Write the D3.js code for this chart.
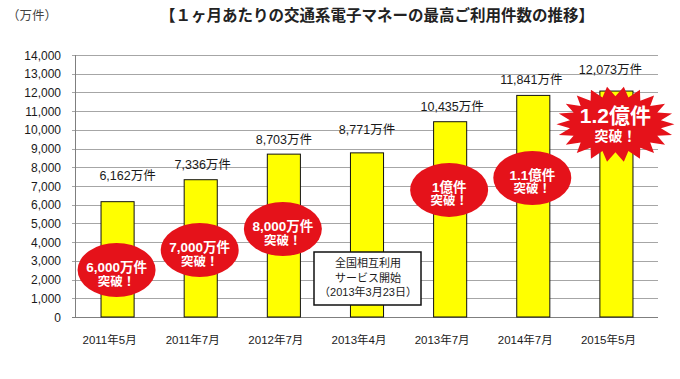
<!DOCTYPE html>
<html lang="ja">
<head>
<meta charset="utf-8">
<script src="https://cdn.jsdelivr.net/npm/d3@7"></script>
<style>
  html, body { margin: 0; padding: 0; background: #fff; }
  svg { display: block; font-family: "Liberation Sans", "Noto Sans CJK JP", sans-serif; }
</style>
</head>
<body>
<div id="chart"></div>
<script>
/* monthly peak usage of transit e-money, 10k transactions */
const CATEGORIES = ['2011年5月', '2011年7月', '2012年7月', '2013年4月', '2013年7月', '2014年7月', '2015年5月'];
const VALUES = [6162, 7336, 8703, 8771, 10435, 11841, 12073];
const Y_TICKS = [0, 1000, 2000, 3000, 4000, 5000, 6000, 7000, 8000, 9000, 10000, 11000, 12000, 13000, 14000];
const MILESTONE_MAIN = ['6,000万件', '7,000万件', '8,000万件', null, '1億件', '1.1億件', '1.2億件'];
const NOTE_LINES = ['全国相互利用', 'サービス開始', '（2013年3月23日）'];
const TITLE = '【１ヶ月あたりの交通系電子マネーの最高ご利用件数の推移】';
const UNIT = '（万件）';

const W = 680, H = 379;
const RED = '#e5121a';
const YELLOW = '#ffff00';
const GRID = '#a6a6a6';
const INK = '#1a1a1a';

const svg = d3.select('#chart').append('svg')
  .attr('width', W).attr('height', H).attr('viewBox', `0 0 ${W} ${H}`);

const x = d3.scaleBand().domain(CATEGORIES).range([76, 658])
  .paddingInner(0.59).paddingOuter(0.295);
const y = d3.scaleLinear().domain([0, 14000]).range([317, 55]);

/* title + unit */
svg.append('text').attr('x', 7).attr('y', 20)
  .attr('font-size', 12.5).attr('fill', '#444').text(UNIT);
svg.append('text').attr('x', 377).attr('y', 21)
  .attr('text-anchor', 'middle').attr('font-size', 15.5).attr('font-weight', 700)
  .attr('fill', '#222').text(TITLE);

/* grid */
svg.append('g').selectAll('line').data(Y_TICKS).join('line')
  .attr('x1', 72).attr('x2', 658)
  .attr('y1', (d) => Math.round(y(d)) + 0.5).attr('y2', (d) => Math.round(y(d)) + 0.5)
  .attr('stroke', (d) => (d === 0 ? '#7f7f7f' : GRID)).attr('stroke-width', 1);

svg.append('line').attr('x1', 75.5).attr('x2', 75.5)
  .attr('y1', y(14000)).attr('y2', y(0))
  .attr('stroke', '#7f7f7f');

svg.append('g').selectAll('text').data(Y_TICKS).join('text')
  .attr('x', 61).attr('y', (d) => y(d) + 4.5)
  .attr('text-anchor', 'end').attr('font-size', 12).attr('fill', INK)
  .text((d) => d3.format(',')(d));

/* bars */
svg.append('g').selectAll('rect').data(VALUES).join('rect')
  .attr('x', (d, i) => x(CATEGORIES[i]) + 0.5)
  .attr('y', (d) => y(d))
  .attr('width', x.bandwidth() - 1)
  .attr('height', (d) => y(0) - y(d))
  .attr('fill', YELLOW).attr('stroke', '#111').attr('stroke-width', 1);

/* value labels (lift tuned to the reference, label by label) */
const lift = [27, 16, 15, 24, 16, 16, 22];
const nudge = [10, 2, 0, 0, 2, -2, -6];
svg.append('g').selectAll('text').data(VALUES).join('text')
  .attr('x', (d, i) => x(CATEGORIES[i]) + x.bandwidth() / 2 + nudge[i])
  .attr('y', (d, i) => y(d) - lift[i] + 5)
  .attr('text-anchor', 'middle').attr('font-size', 12.5).attr('fill', INK)
  .text((d) => d3.format(',')(d) + '万件');

/* category labels */
svg.append('g').selectAll('text').data(CATEGORIES).join('text')
  .attr('x', (d) => x(d) + x.bandwidth() / 2 - 8)
  .attr('y', 344)
  .attr('text-anchor', 'middle').attr('font-size', 11.5).attr('fill', INK)
  .text((d) => d);

/* milestone badges: ellipses, a starburst for the last one */
const badgeAt = [2510, 3580, 4700, null, 6790, 7430, 10300];
const badges = svg.append('g');
MILESTONE_MAIN.forEach((txt, i) => {
  if (!txt) return;
  const cx = x(CATEGORIES[i]) + x.bandwidth() / 2 - 1;
  const cy = y(badgeAt[i]);
  const g = badges.append('g').attr('transform', `translate(${cx},${cy})`);
  const last = i === MILESTONE_MAIN.length - 1;
  if (last) {
    const n = 22, pts = [];
    for (let k = 0; k < n * 2; k++) {
      const a = (k / (n * 2)) * Math.PI * 2;
      const outer = k % 2 === 0;
      const rx = outer ? 59 : 46, ry = outer ? 38 : 28;
      pts.push([Math.cos(a) * rx, Math.sin(a) * ry]);
    }
    g.append('polygon').attr('points', pts.map((p) => p.join(',')).join(' '))
      .attr('fill', RED);
    g.append('text').attr('y', -1).attr('text-anchor', 'middle')
      .attr('font-size', 21).attr('font-weight', 700).attr('fill', '#fff').text(txt);
    g.append('text').attr('y', 17).attr('text-anchor', 'middle')
      .attr('font-size', 14).attr('font-weight', 700).attr('fill', '#fff').text('突破！');
  } else {
    g.append('ellipse').attr('rx', 39).attr('ry', 27).attr('fill', RED);
    g.append('text').attr('y', 2).attr('text-anchor', 'middle')
      .attr('font-size', 13.5).attr('font-weight', 700).attr('fill', '#fff').text(txt);
    g.append('text').attr('y', 15.5).attr('text-anchor', 'middle')
      .attr('font-size', 12.5).attr('font-weight', 700).attr('fill', '#fff').text('突破！');
  }
});

/* note box over the 2013年4月 bar */
const nx = x(CATEGORIES[3]) + x.bandwidth() / 2;
const note = svg.append('g').attr('transform', `translate(${nx},${252})`);
note.append('rect').attr('x', -53).attr('y', 0).attr('width', 107).attr('height', 53)
  .attr('fill', '#fff').attr('stroke', '#111').attr('stroke-width', 1.5);
note.selectAll('text').data(NOTE_LINES).join('text')
  .attr('x', 1).attr('y', (d, i) => 15 + i * 14.5)
  .attr('text-anchor', 'middle').attr('font-size', 11).attr('fill', INK)
  .text((d) => d);
</script>
</body>
</html>
